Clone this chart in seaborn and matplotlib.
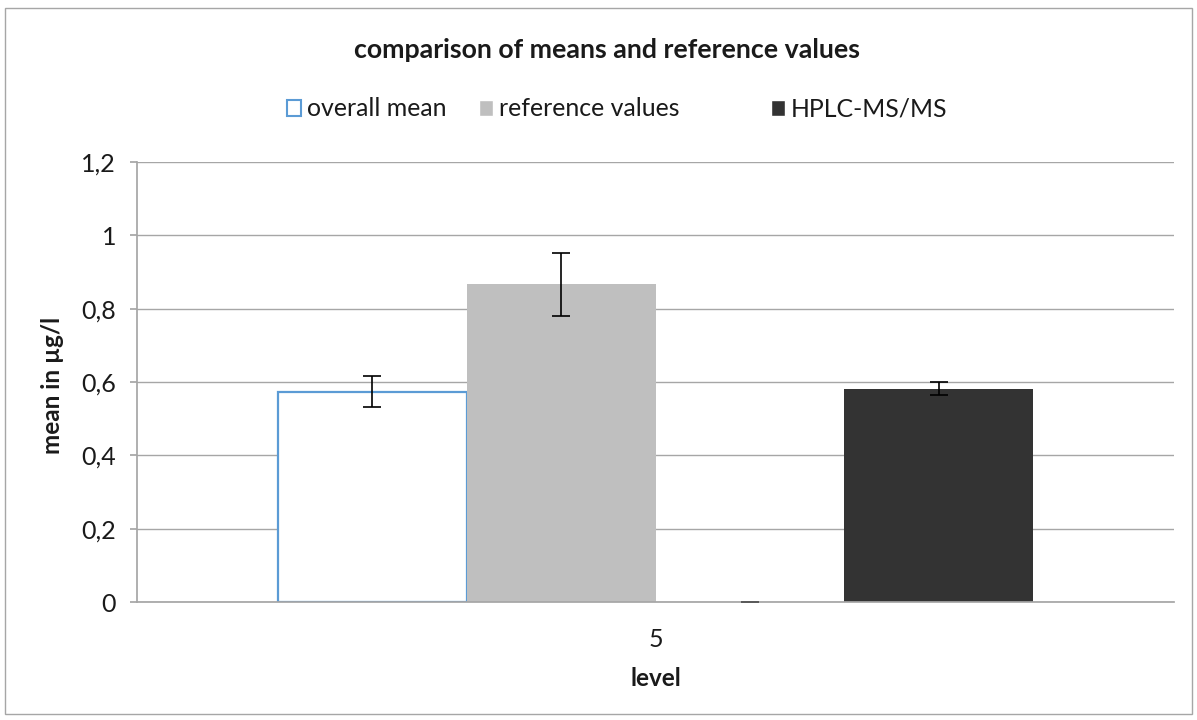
import matplotlib
matplotlib.use("Agg")
import matplotlib.pyplot as plt
import seaborn as sns
import pandas as pd
from matplotlib.patches import Patch, Rectangle
from matplotlib.ticker import FuncFormatter

# data
categories = ["5"]
series = ["overall mean", "reference values", " ", "HPLC-MS/MS"]
means = [0.574, 0.866, 0.0, 0.582]
errors = [0.042, 0.086, 0.0, 0.018]
yticks = [0, 0.2, 0.4, 0.6, 0.8, 1.0, 1.2]

df = pd.DataFrame({"level": categories * len(series), "series": series, "mean": means})

sns.set_theme(style="white")
plt.rcParams["font.family"] = ["Lato", "DejaVu Sans"]

W, H = 1197, 720
fig = plt.figure(figsize=(W / 100, H / 100), dpi=100)
ax = fig.add_axes([137 / W, 1 - 602 / H, (1174 - 137) / W, (602 - 162) / H])

colors = ["white", "#BFBFBF", "#595959", "#333333"]
sns.barplot(data=df, x="level", y="mean", hue="series", hue_order=series,
            palette=colors, width=0.728, gap=0, errorbar=None, ax=ax,
            legend=False, saturation=1)

bars = ax.patches[:len(series)]
bars[0].set_edgecolor("#5B9BD5")
bars[0].set_linewidth(1.6)
for b in bars[1:]:
    b.set_linewidth(0)

for b, m, e, c in zip(bars, means, errors, ["black", "black", "#595959", "black"]):
    xc = b.get_x() + b.get_width() / 2
    ax.errorbar(xc, m, yerr=e, fmt="none", ecolor=c, elinewidth=1.2, capsize=6.3, capthick=1.2, zorder=5)

ax.set_xlim(-0.5, 0.5)
ax.set_ylim(0, 1.2)
ax.set_yticks(yticks)
ax.yaxis.set_major_formatter(FuncFormatter(lambda v, p: ("%g" % round(v, 1)).replace(".", ",")))
ax.grid(axis="y", color="#A6A6A6", linewidth=1)
ax.set_axisbelow(True)
for s in ["top", "right"]:
    ax.spines[s].set_visible(False)
ax.spines["left"].set_color("#A6A6A6")
ax.spines["bottom"].set_color("#A6A6A6")
ax.tick_params(axis="y", left=True, length=5, color="#A6A6A6", labelsize=18, pad=10, labelcolor="#1a1a1a")
ax.tick_params(axis="x", bottom=False, labelsize=18, pad=13, labelcolor="#1a1a1a")
ax.set_ylabel("")
ax.set_xlabel("")

fig.text(53 / W, 1 - 385 / H, "mean in µg/l", rotation=90, ha="center", va="center",
         fontsize=17.5, fontweight="bold", color="#1a1a1a")
fig.text(656 / W, 1 - 679 / H, "level", ha="center", va="center",
         fontsize=17.5, fontweight="bold", color="#1a1a1a")
fig.text(607 / W, 1 - 50 / H, "comparison of means and reference values", ha="center", va="center",
         fontsize=19.3, fontweight="bold", color="#1a1a1a")

handles = [Patch(facecolor="white", edgecolor="#5B9BD5", linewidth=1.5),
           Patch(facecolor="#BFBFBF"),
           Patch(facecolor="none", edgecolor="none"),
           Patch(facecolor="#333333")]
fig.legend(handles, series, loc="center left", bbox_to_anchor=(287 / W, 1 - 109 / H), ncol=4, frameon=False,
           fontsize=17.9, handlelength=0.56, handleheight=0.6, handletextpad=0.25, columnspacing=1.3,
           borderpad=0, borderaxespad=0, labelcolor="#1a1a1a")

fig.add_artist(Rectangle((5 / W, 6 / H), (W - 10) / W, (H - 14) / H, transform=fig.transFigure,
                         fill=False, edgecolor="#A6A6A6", linewidth=1))

fig.savefig("out.png", dpi=100)
